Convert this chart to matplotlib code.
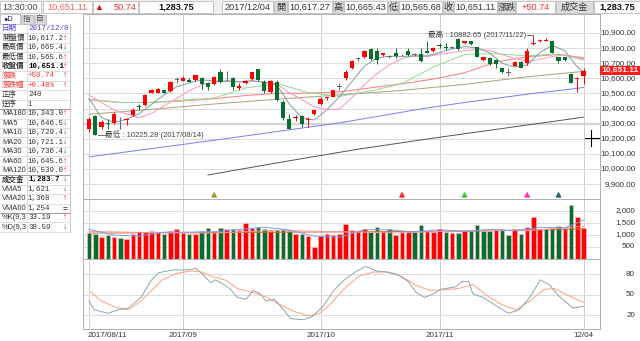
import numpy as np
import matplotlib
matplotlib.use("Agg")
import matplotlib.pyplot as plt
from matplotlib.patches import Rectangle
import matplotlib.transforms as mtrans

plt.rcParams['font.family'] = ['Liberation Sans', 'Noto Sans CJK TC', 'DejaVu Sans']

W, H = 640, 341

# ---------------- data ----------------
dates_lbl = ['2017/08/11', '2017/09', '2017/10', '2017/11', '12/04']
dates_idx = [0, 15, 37, 56, 79]

opens = [10266, 10349, 10278, 10302, 10304, 10329, 10325, 10355, 10420, 10422,
         10504, 10504, 10520, 10515, 10589, 10582, 10589, 10589, 10600, 10571,
         10562, 10644, 10600, 10600, 10533, 10567, 10595, 10660, 10578, 10511,
         10578, 10444, 10333, 10336, 10351, 10322, 10366, 10427, 10469, 10478,
         10542, 10600, 10671, 10727, 10740, 10795, 10778, 10756, 10740, 10767,
         10752, 10778, 10754, 10760, 10782, 10778, 10818, 10801, 10803, 10860,
         10833, 10844, 10807, 10722, 10733, 10722, 10667, 10638, 10684, 10711,
         10700, 10826, 10844, 10849, 10844, 10738, 10738, 10627, 10598, 10617.27]
highs = [10345, 10355, 10322, 10333, 10378, 10344, 10335, 10404, 10433, 10495,
         10527, 10533, 10527, 10580, 10611, 10615, 10600, 10625, 10611, 10578,
         10615, 10660, 10649, 10611, 10566, 10590, 10645, 10665, 10589, 10589,
         10589, 10455, 10367, 10360, 10360, 10344, 10392, 10478, 10478, 10522,
         10566, 10655, 10720, 10740, 10785, 10800, 10800, 10770, 10750, 10800,
         10760, 10800, 10765, 10800, 10844, 10805, 10833, 10833, 10815, 10866,
         10847, 10850, 10810, 10740, 10740, 10727, 10670, 10671, 10715, 10715,
         10800, 10882.65, 10860, 10870, 10850, 10744, 10744, 10633, 10611, 10665.43]
lows = [10245, 10225.28, 10266, 10266, 10300, 10267, 10289, 10351, 10389, 10418,
        10500, 10500, 10500, 10512, 10571, 10580, 10575, 10585, 10527, 10522,
        10558, 10567, 10582, 10522, 10522, 10560, 10590, 10584, 10500, 10500,
        10449, 10322, 10262, 10316, 10278, 10278, 10360, 10422, 10455, 10474,
        10522, 10589, 10665, 10715, 10735, 10722, 10693, 10750, 10733, 10733,
        10745, 10750, 10745, 10711, 10766, 10775, 10800, 10790, 10795, 10790,
        10830, 10822, 10740, 10715, 10690, 10667, 10633, 10615, 10680, 10671,
        10689, 10822, 10840, 10844, 10767, 10700, 10715, 10567, 10511, 10565.68]
closes = [10333, 10227, 10311, 10300, 10366, 10329, 10333, 10393, 10408, 10489,
          10520, 10529, 10504, 10578, 10589, 10600, 10578, 10622, 10560, 10544,
          10611, 10578, 10600, 10540, 10551, 10582, 10640, 10589, 10515, 10582,
          10455, 10338, 10262, 10338, 10300, 10333, 10389, 10466, 10471, 10522,
          10542, 10644, 10715, 10727, 10778, 10727, 10722, 10767, 10740, 10745,
          10752, 10757, 10754, 10715, 10767, 10800, 10817, 10800, 10803, 10793,
          10844, 10827, 10744, 10738, 10693, 10698, 10641, 10638, 10711, 10671,
          10782, 10833, 10855, 10850, 10767, 10718, 10722, 10567, 10600.37, 10651.11]
prev_close0 = 10400

ma5_idx = [0, 2, 4, 6, 8, 10, 12, 14, 16, 18, 20, 22, 24, 26, 28, 30, 32, 34, 36, 38, 40,
           42, 44, 46, 48, 50, 52, 54, 56, 58, 60, 62, 64, 66, 68, 70, 72, 74, 76, 78, 79]
ma5 = [10466, 10340, 10307, 10328, 10366, 10429, 10490, 10544, 10570, 10590, 10583,
       10579, 10576, 10583, 10575, 10556, 10430, 10339, 10324, 10392, 10478, 10579,
       10681, 10734, 10747, 10745, 10749, 10749, 10771, 10796, 10810, 10801, 10769,
       10700, 10675, 10688, 10770, 10818, 10783, 10675, 10646]
ma10 = [10490, 10440, 10390, 10364, 10340, 10368, 10417, 10467, 10519, 10557, 10572,
        10586, 10578, 10583, 10575, 10563, 10505, 10460, 10410, 10393, 10396, 10472,
        10559, 10631, 10689, 10732, 10747, 10744, 10761, 10770, 10784, 10790, 10785,
        10756, 10732, 10714, 10725, 10744, 10756, 10737, 10729]
ma2030_idx = [0, 5, 10, 15, 20, 25, 30, 35, 40, 45, 50, 55, 60, 65, 70, 75, 79]
ma20 = [10462, 10440, 10440, 10455, 10470, 10536, 10567, 10506, 10480, 10517, 10564,
        10675, 10758, 10763, 10749, 10761, 10721]
ma30 = [10458, 10440, 10440, 10450, 10465, 10486, 10501, 10502, 10510, 10537, 10564,
        10595, 10637, 10708, 10743, 10758, 10736]
ma60_idx = [0, 10, 20, 30, 40, 50, 60, 70, 79]
ma60 = [10362, 10395, 10430, 10462, 10490, 10520, 10560, 10610, 10646]
ma120_idx = [0, 20, 40, 54, 60, 70, 79]
ma120 = [10080, 10190, 10305, 10404, 10440, 10495, 10539]
ma180_idx = [19, 30, 43, 56, 69, 79]
ma180 = [9960, 10040, 10131, 10210, 10285, 10343]

volume = [1097, 1042, 930, 986, 930, 861, 819, 1042, 1139, 1139,
          1181, 1111, 1042, 1181, 1250, 1097, 1028, 1042, 1181, 1278,
          1167, 1278, 1236, 1236, 1208, 1514, 1306, 1347, 1250, 1181,
          1208, 1236, 1181, 1042, 1042, 972, 514, 958, 1042, 1000,
          1042, 1458, 1208, 1181, 1236, 1139, 1319, 1139, 1236, 1000,
          1139, 1139, 1111, 1417, 1181, 1139, 1236, 1139, 1097, 1069,
          1208, 1181, 1417, 1181, 1181, 1236, 1250, 1000, 1236, 1042,
          1319, 1764, 1250, 1236, 1306, 1375, 1306, 2250, 1764, 1284]
vma5_idx = [0, 4, 8, 12, 16, 20, 24, 28, 32, 36, 40, 44, 48, 52, 56, 60, 64, 68, 72, 76, 79]
vma5 = [1236, 997, 958, 1122, 1120, 1139, 1225, 1325, 1211, 950, 911, 1225, 1214,
        1125, 1217, 1150, 1234, 1181, 1322, 1295, 1621]
vma20_idx = [0, 10, 20, 30, 40, 50, 60, 70, 79]
vma20 = [1150, 1100, 1080, 1200, 1130, 1085, 1190, 1180, 1368]
vma60_idx = [0, 20, 40, 60, 79]
vma60 = [1080, 1100, 1130, 1160, 1254]

k_idx = [0, 0.85, 3.1, 4.6, 6.3, 8.3, 10, 11.1, 13.4, 15.7, 17.1, 18.2, 19.4, 20.2, 21.4,
         22.5, 23.7, 25.1, 26.2, 27.4, 28.2, 29.6, 31.1, 32.2, 34.2, 35.6, 37.4, 39.1,
         40.8, 42.5, 44.2, 45.9, 47.6, 49.3, 51, 52.2, 53.6, 55, 56.2, 58.5, 59.6, 60.7,
         61.3, 63, 64.7, 67, 68.7, 70.4, 72.1, 73.6, 75, 77.3, 79]
k_val = [40.8, 27.8, 22.6, 27.8, 30.4, 46, 72, 82.5, 86.7, 86.7, 88.8, 80, 68, 72, 65.9,
         59.1, 46, 43.4, 56.5, 51.3, 40.8, 43.4, 27.8, 14.8, 13.2, 17.4, 33, 56.5,
         72, 83.6, 91.9, 85.2, 83.6, 80, 69.5, 53.9, 46, 51.3, 58, 61.7, 69.5, 69.5,
         51.3, 46, 35.6, 22.6, 27.8, 46, 72, 64.3, 48.7, 30.4, 33.19]
d_idx = [0.3, 2, 4.3, 6.3, 8.3, 10, 11.7, 14, 16.2, 18, 19.6, 22, 23.7, 26, 28.2, 30.5,
         32.8, 35.1, 36.8, 38.5, 40.8, 43.1, 45.4, 47.6, 49.9, 52.2, 54.4, 56.7, 59,
         61.3, 63.6, 65.9, 68.2, 70.4, 72.7, 74.4, 76.6, 79]
d_val = [53.9, 40.8, 31.4, 27.8, 40.8, 56.5, 72, 81.5, 85.2, 83.6, 77.3, 71, 59.1, 53.9,
         47.1, 35.6, 25.2, 18.9, 22.6, 35.6, 59.1, 77.3, 83.6, 83.6, 77.3, 64.3, 56.5,
         57.5, 59.1, 65.3, 48.7, 35.6, 27.8, 40.8, 58, 59.1, 48.7, 38.59]

signal_idx = [20, 50, 60, 70, 75]
signal_col = ['#a09a30', '#ff2a2a', '#33cc33', '#ff33bb', '#1f6e6e']
cursor_idx, cursor_price = 80.2, 10205

table_rows = [
    ('日期', '2017/12/0', '', '#4b3fd6', False),
    ('開盤價', '10,617.2', '↑', '#333333', False),
    ('最高價', '10,665.4', '↓', '#333333', False),
    ('最低價', '10,565.6', '↑', '#333333', False),
    ('收盤價', '10,651.1', '↑', '#000000', True),
    ('漲跌', '+50.74', '↑', '#ff3333', False),
    ('漲跌幅', '+0.48%', '↑', '#ff3333', False),
    ('正序', '240', '', '#333333', False),
    ('逆序', '1', '', '#333333', False),
    ('MA180', '10,343.0', '↑', '#333333', False),
    ('MA5', '10,646.5', '↓', '#333333', False),
    ('MA10', '10,729.4', '↓', '#333333', False),
    ('MA20', '10,721.1', '↓', '#333333', False),
    ('MA30', '10,736.4', '↓', '#333333', False),
    ('MA60', '10,645.6', '↑', '#333333', False),
    ('MA120', '10,539.0', '↑', '#333333', False),
    ('成交金', '1,283.7', '↓', '#000000', True),
    ('VMA5', '1,621', '↓', '#333333', False),
    ('VMA20', '1,368', '↑', '#333333', False),
    ('VMA60', '1,254', '=', '#333333', False),
    ('%K(9,3', '33.19', '↑', '#333333', False),
    ('%D(9,3', '38.59', '↓', '#333333', False),
]

header = [
    (0, 41, '13:30:00', '#444444', 'w'),
    (43, 92, '10,651.11', '#ff5a5a', 'w'),
    (93, 138, '', '#ff0000', 'w'),
    (139, 213, '1,283.75', '#111111', 'w'),
    (222, 273, '2017/12/04', '#333333', 'w'),
    (274, 287, '開', '#333333', '#dcdcdc'),
    (288, 332, '10,617.27', '#333333', 'w'),
    (333, 343, '高', '#333333', '#dcdcdc'),
    (344, 387, '10,665.43', '#333333', 'w'),
    (388, 398, '低', '#333333', '#dcdcdc'),
    (399, 442, '10,565.68', '#333333', 'w'),
    (443, 453, '收', '#333333', '#dcdcdc'),
    (454, 497, '10,651.11', '#333333', 'w'),
    (498, 515, '漲跌', '#333333', '#dcdcdc'),
    (516, 555, '+50.74', '#ff3333', 'w'),
    (556, 593, '成交金', '#333333', '#dcdcdc'),
    (594, 640, '1,283.75', '#111111', 'w'),
]

RED = '#ff0000'
GREEN = '#05702e'
GRID = '#dcdcdc'


def box(x0, y0, x1, y1):
    return [x0 / W, 1 - y1 / H, (x1 - x0) / W, (y1 - y0) / H]


fig = plt.figure(figsize=(6.4, 3.41), dpi=100)
bg = fig.add_axes([0, 0, 1, 1])
bg.set_xlim(0, W)
bg.set_ylim(H, 0)
bg.axis('off')

# header bar
bg.add_patch(Rectangle((0, 0), W, 14, fc='#eeeeee', ec='none'))
for x0, x1, t, c, fc in header:
    bg.add_patch(Rectangle((x0, 1), x1 - x0, 12, fc=fc, ec='#bdbdbd', lw=0.6))
    if t:
        bold = t in ('1,283.75',)
        bg.text((x0 + x1) / 2, 7.3, t, color=c, fontsize=6.6, ha='center', va='center',
                fontweight='bold' if bold else 'normal')
bg.text(99, 7.3, '▲', color='#ff0000', fontsize=6.5, ha='center', va='center')
bg.text(137, 7.3, '50.74', color='#ff3333', fontsize=6.6, ha='right', va='center')

# left tabs
bg.add_patch(Rectangle((0, 14), 20, 10, fc='w', ec='#bdbdbd', lw=0.6))
bg.add_patch(Rectangle((21, 15), 12, 9, fc='#d8d8d8', ec='#bdbdbd', lw=0.6))
bg.add_patch(Rectangle((34, 15), 12, 9, fc='#d8d8d8', ec='#bdbdbd', lw=0.6))
bg.text(3, 19.5, '●D', fontsize=5.2, color='#222266', va='center')
bg.text(27, 19.5, '指', fontsize=5.5, color='#555555', va='center', ha='center')
bg.text(40, 19.5, '自', fontsize=5.5, color='#555555', va='center', ha='center')

# left table
row_h = 9.45
top = 24
for k, (lab, val, arr, col, bold) in enumerate(table_rows):
    y0 = top + k * row_h
    yc = y0 + row_h / 2
    bg.plot([0, 70], [y0 + row_h, y0 + row_h], color='#d0d0d0', lw=0.5)
    bg.text(2, yc, lab, fontsize=5.4, color=col if k in (0, 5, 6) else '#333333',
            va='center', fontweight='bold' if bold else 'normal')
    bg.text(28, yc, val, fontsize=5.4, color=col, va='center',
            family=['Liberation Mono', 'Noto Sans CJK TC'],
            fontweight='bold' if bold else 'normal')
    if arr:
        ac = '#ff0000' if arr == '↑' else ('#0a7a32' if arr == '↓' else '#333333')
        bg.text(65.5, yc, arr, fontsize=6, color=ac, va='center', ha='center',
                fontweight='bold')
for kk in (9, 16, 20):
    yy = top + kk * row_h
    bg.plot([0, 70], [yy, yy], color='#999999', lw=0.7)
bg.plot([27, 27], [top, top + len(table_rows) * row_h], color='#d0d0d0', lw=0.5)
bg.plot([70, 70], [top, top + len(table_rows) * row_h], color='#bbbbbb', lw=0.6)

n = len(closes)
idx = np.arange(n)
xlim = (-0.96, 81.63)

ax_p = fig.add_axes(box(83, 14, 600, 199))
ax_v = fig.add_axes(box(83, 199, 600, 259))
ax_k = fig.add_axes(box(83, 259, 600, 329))
for ax in (ax_p, ax_v, ax_k):
    ax.set_xlim(*xlim)
    ax.set_xticks([])
    ax.set_yticks([])
    for s in ax.spines.values():
        s.set_color('#b0b0b0')
        s.set_linewidth(0.7)
    for d in dates_idx:
        ax.axvline(d, color='#cfcfcf', lw=0.7, zorder=0)

# ---- price panel ----
ax_p.set_ylim(9801, 11026)
for p in range(9900, 11000, 100):
    ax_p.axhline(p, color=GRID, lw=0.7, zorder=0)
ax_p.axhline(10300, color='#d4d4d4', lw=1.6, zorder=0)

ax_p.plot(ma180_idx, ma180, color='#555555', lw=0.7)
ax_p.plot(ma120_idx, ma120, color='#7b7bff', lw=0.7)
ax_p.plot(ma60_idx, ma60, color='#aaa27a', lw=0.7)
ax_p.plot(ma2030_idx, ma30, color='#ff7a7a', lw=0.7)
ax_p.plot(ma2030_idx, ma20, color='#8fdc8f', lw=0.7)
ax_p.plot(ma5_idx, ma10, color='#ff92c2', lw=0.7)
ax_p.plot(ma5_idx, ma5, color='#7a9f9f', lw=0.7)

o = np.array(opens, float)
c = np.array(closes, float)
hi = np.array(highs, float)
lo = np.array(lows, float)
cols = np.where(c > o, RED, np.where(c < o, GREEN, '#666666'))
ax_p.vlines(idx, lo, hi, colors=cols, lw=0.7, zorder=3)
body = np.maximum(np.abs(c - o), 5)
ax_p.bar(idx, body, bottom=np.minimum(o, c), width=0.68, color=cols, lw=0, zorder=4)

ax_p.scatter(signal_idx, [9828] * len(signal_idx), marker='^', s=9, c=signal_col, zorder=5)

# lowest / highest notes
ax_p.plot([1.45, 2.5], [lows[1], lows[1]], color='#555555', lw=0.6)
ax_p.text(2.6, lows[1], '最低 : 10225.28 (2017/08/14)', fontsize=5.5, color='#444444',
          va='center')
ax_p.plot([69.9, 71, 71], [10889, 10889, highs[71]], color='#555555', lw=0.6)
ax_p.text(69.8, 10889, '最高 : 10882.65 (2017/11/22)', fontsize=5.5, color='#444444',
          va='center', ha='right')

# cursor
ax_p.plot([79.2, 81.6], [cursor_price, cursor_price], color='k', lw=0.8, clip_on=False)
ax_p.plot([cursor_idx, cursor_idx], [10258, 10152], color='k', lw=0.8)

# MA legend
leg = [('MA180', '#2e7373', 87), ('MA5', '#2a9a9a', 113), ('MA10', '#ff4aa8', 129),
       ('MA20', '#66cc66', 151), ('MA30', '#ff3b3b', 172), ('MA60', '#b89a3c', 193),
       ('MA120', '#5a5aff', 213)]
for t, cc, xx in leg:
    bg.text(xx, 19.6, t, fontsize=5.3, color=cc, va='center')
bg.add_patch(Rectangle((333, 15), 18, 10, fc='w', ec='#aaaaaa', lw=0.6, zorder=5))
bg.text(342, 20, 'K線', fontsize=5.3, color='#444444', ha='center', va='center', zorder=6)

# right price labels
tr_p = mtrans.blended_transform_factory(fig.transFigure, ax_p.transData)
for p in range(9900, 11000, 100):
    fig.text(636 / W, p, f'{p:,.2f}', transform=tr_p, fontsize=5.8, color='#333333',
             ha='right', va='center')
lastp = closes[-1]
fig.text(620 / W, lastp, f'{lastp:,.2f}', transform=tr_p, fontsize=6, color='w',
         fontweight='bold', ha='center', va='center',
         bbox=dict(boxstyle='square,pad=0.15', fc='#ff1a1a', ec='none'))

# ---- volume panel ----
vmax = (259 - 199) / 0.024
ax_v.set_ylim(0, vmax)
for v in (500, 1000, 1500, 2000):
    ax_v.axhline(v, color=GRID, lw=0.7, zorder=0)
prev = np.concatenate([[prev_close0], c[:-1]])
vcols = np.where(c >= prev, RED, GREEN)
ax_v.bar(idx, volume, width=0.72, color=vcols, edgecolor='#ffc0c0', lw=0.4, zorder=2)
ax_v.plot(vma60_idx, vma60, color='#c8742e', lw=0.7, zorder=3)
ax_v.plot(vma20_idx, vma20, color='#ff9c9c', lw=0.7, zorder=3)
ax_v.plot(vma5_idx, vma5, color='#7c9cff', lw=0.7, zorder=3)
tr_v = mtrans.blended_transform_factory(fig.transFigure, ax_v.transData)
for v in (500, 1000, 1500, 2000):
    fig.text(635 / W, v, f'{v:,}', transform=tr_v, fontsize=5.8, color='#333333',
             ha='right', va='center')
vleg = [('成交量(金額)', '#666666', 88), ('VMA5', '#3f8cff', 135),
        ('VMA20', '#ff3b3b', 155), ('VMA60', '#9a5a2a', 182)]
for t, cc, xx in vleg:
    bg.text(xx, 203.5, t, fontsize=5.3, color=cc, va='center')
bg.add_patch(Rectangle((333, 199.5), 20, 10.5, fc='w', ec='#aaaaaa', lw=0.6, zorder=5))
bg.text(343, 205, '成交', fontsize=5.3, color='#555555', ha='center', va='center', zorder=6)

# ---- KD panel ----
ax_k.set_ylim(-0.5, 102.8)
for v in (20, 50, 80):
    ax_k.axhline(v, color=GRID, lw=0.7, zorder=0)
ax_k.plot(d_idx, d_val, color='#ff9f80', lw=0.7)
ax_k.plot(k_idx, k_val, color='#8aa8a8', lw=0.7)
tr_k = mtrans.blended_transform_factory(fig.transFigure, ax_k.transData)
for v in (20, 50, 80):
    fig.text(635 / W, v, str(v), transform=tr_k, fontsize=5.8, color='#333333',
             ha='right', va='center')
bg.text(88, 265.7, '%K(9,3)', fontsize=5.3, color='#6fa0a0', va='center')
bg.text(116, 265.7, '%D(9,3)', fontsize=5.3, color='#ff9a50', va='center')
bg.add_patch(Rectangle((333, 261), 20, 10, fc='w', ec='#aaaaaa', lw=0.6, zorder=5))
bg.text(343, 266, 'KD-J', fontsize=5.3, color='#444444', ha='center', va='center', zorder=6)

# date labels
tr_x = mtrans.blended_transform_factory(ax_k.transData, fig.transFigure)
for d, t in zip(dates_idx, dates_lbl):
    ha = 'left' if d == 0 else 'center'
    fig.text(d - (0.3 if d == 0 else 0), 1 - 335.5 / H, t, transform=tr_x, fontsize=5.8,
             color='#333333', ha=ha, va='center')

fig.savefig('out.png', dpi=100)
